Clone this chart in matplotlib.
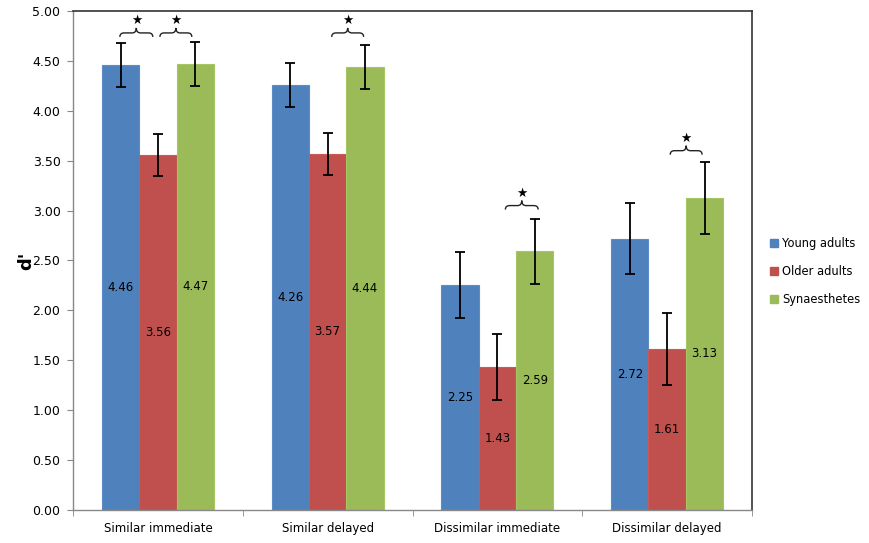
import numpy as np
import matplotlib
matplotlib.use("Agg")
import matplotlib.pyplot as plt
from matplotlib.path import Path
from matplotlib.patches import PathPatch

categories = ["Similar immediate", "Similar delayed", "Dissimilar immediate", "Dissimilar delayed"]
groups = ["Young adults", "Older adults", "Synaesthetes"]
young = [4.46, 4.26, 2.25, 2.72]
older = [3.56, 3.57, 1.43, 1.61]
synaes = [4.47, 4.44, 2.59, 3.13]
young_err = [0.22, 0.22, 0.33, 0.36]
older_err = [0.21, 0.21, 0.33, 0.36]
synaes_err = [0.22, 0.22, 0.33, 0.36]

# significance braces: (category index, x offset start, x offset end, level)
braces = [
    (0, -0.224, -0.03, 4.78),
    (0, 0.012, 0.20, 4.78),
    (1, 0.024, 0.212, 4.78),
    (2, 0.047, 0.24, 3.05),
    (3, 0.018, 0.206, 3.60),
]

colors = ["#4F81BD", "#C0504D", "#9BBB59"]
edges = ["#5B8CC8", "#C95A57", "#A6C563"]


def draw_brace(ax, x0, x1, y, tip=0.04, peak=0.05, r=0.025):
    xm = (x0 + x1) / 2
    verts = [
        (x0, y - tip), (x0, y), (x0 + r, y),
        (xm - r, y),
        (xm, y), (xm, y + peak),
        (xm, y), (xm + r, y),
        (x1 - r, y),
        (x1, y), (x1, y - tip),
    ]
    codes = [Path.MOVETO, Path.CURVE3, Path.CURVE3,
             Path.LINETO,
             Path.CURVE3, Path.CURVE3,
             Path.CURVE3, Path.CURVE3,
             Path.LINETO,
             Path.CURVE3, Path.CURVE3]
    ax.add_patch(PathPatch(Path(verts, codes), fill=False, lw=1.0, color="#222222"))
    ax.text(xm, y + peak + 0.005, "★", ha="center", va="bottom", fontsize=9, color="black")


fig = plt.figure(figsize=(8.69, 5.43), dpi=100)
ax = fig.add_axes([0.084, 0.0608, 0.7814, 0.919])

x = np.arange(len(categories))
w = 0.22
series = [young, older, synaes]
errs = [young_err, older_err, synaes_err]
for i, (vals, err) in enumerate(zip(series, errs)):
    pos = x + (i - 1) * w
    ax.bar(pos, vals, w, color=colors[i], edgecolor=edges[i], linewidth=0.8,
           label=groups[i], zorder=2)
    ax.errorbar(pos, vals, yerr=err, fmt="none", ecolor="black", elinewidth=1.3,
                capsize=3.5, capthick=1.3, zorder=3)
    for p, v in zip(pos, vals):
        ax.text(p, v / 2, f"{v:.2f}", ha="center", va="center", fontsize=8.5, color="black", zorder=4)

for ci, a, b, lvl in braces:
    draw_brace(ax, x[ci] + a, x[ci] + b, lvl)

ax.set_xlim(-0.5, 3.5)
ax.set_ylim(0, 5)
ax.set_yticks(np.arange(0, 5.01, 0.5))
ax.set_yticklabels([f"{t:.2f}" for t in np.arange(0, 5.01, 0.5)], fontsize=9)
ax.set_xticks(x)
ax.set_xticklabels(categories, fontsize=8.5)
ax.set_xticks([-0.5, 0.5, 1.5, 2.5, 3.5], minor=True)
ax.tick_params(axis="x", which="major", length=0, pad=9)
ax.tick_params(axis="x", which="minor", length=4, color="#888888", direction="out")
ax.tick_params(axis="y", length=4, color="#888888", direction="out", pad=5)
ax.set_ylabel("d'", fontsize=13, fontweight="bold")
ax.yaxis.set_label_coords(-0.056, 0.5)

for s in ["left", "bottom"]:
    ax.spines[s].set_color("#888888")
    ax.spines[s].set_linewidth(1.0)
for s in ["top", "right"]:
    ax.spines[s].set_color("#333333")
    ax.spines[s].set_linewidth(1.2)

handles = [plt.Line2D([], [], marker="s", linestyle="none", markersize=6,
                      markerfacecolor=c, markeredgecolor=c) for c in colors]
fig.legend(handles, groups, loc="center left", bbox_to_anchor=(0.872, 0.5),
           frameon=False, fontsize=8.3, handletextpad=0.2, labelspacing=1.3,
           handlelength=1.0)

fig.savefig("out.png", dpi=100)
